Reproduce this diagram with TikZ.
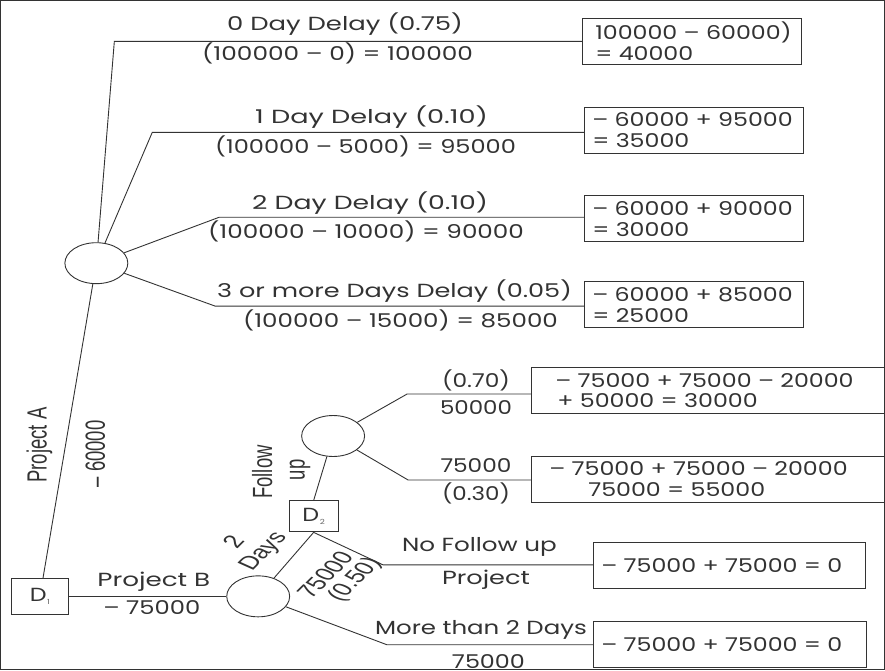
\documentclass[tikz,border=0pt]{standalone}
\usepackage{fontspec}
\usepackage{graphicx}
\setmainfont{Poppins}
\newfontfamily\boxfont{Poppins}[FakeStretch=1.25]
\newfontfamily\narrowfont{Liberation Sans}
\usetikzlibrary{shapes.geometric}
\definecolor{lc}{HTML}{333333}
\newcommand{\dsub}[1]{\kern0.5pt\raisebox{-3pt}{\textcolor{black!60}{\fontsize{7}{7}\selectfont #1}}}
\newcommand{\wtext}[2]{\resizebox{#1}{\height}{#2}}
\newcommand{\rtext}[2]{\scalebox{1.5}[1]{\rotatebox{#1}{#2}}}
\begin{document}
\begin{tikzpicture}[x=1pt,y=-1pt,
  every path/.style={line width=0.9pt, draw=lc},
  lbl/.style={font=\fontsize{19}{19}\selectfont, inner sep=0pt, text=lc},
  small/.style={font=\narrowfont\fontsize{18.5}{18.5}\selectfont, inner sep=0pt, text=lc},
  circ/.style={ellipse, draw=lc, line width=0.9pt, minimum width=63pt, minimum height=41pt, inner sep=0pt},
  dbox/.style={rectangle, draw=lc, line width=0.9pt, inner sep=0pt, font=\boxfont\fontsize{19}{19}\selectfont, text=lc},
  valbox/.style={rectangle, draw=lc, line width=0.9pt, anchor=west, minimum height=46pt,
    align=left, inner xsep=8pt, inner ysep=0pt, text width=#1, text=lc,
    font=\boxfont\fontsize{19}{21}\selectfont}]
\path[fill=white, draw=none] (0,0) rectangle (885,670);
\useasboundingbox (0,0) rectangle (885,670);

% chance and decision nodes
\node[circ] (c1) at (96,263) {};
\node[circ] (c2) at (258,596.5) {};
\node[circ] (c3) at (333,436) {};
\node[dbox, minimum width=57pt, minimum height=36pt] (D1) at (39.5,596.5) {D\dsub{1}};
\node[dbox, minimum width=49pt, minimum height=31pt] (D2) at (313.5,516.5) {D\dsub{2}};

% corner points
\coordinate (k1) at (114,41);
\coordinate (k2) at (152,132);
\coordinate (k3) at (219,217);
\coordinate (k4) at (215,306);
\coordinate (k5) at (407,394);
\coordinate (k6) at (408,480);
\coordinate (k7) at (383,565);
\coordinate (k8) at (387,645);

% value boxes
\node[valbox=203pt] (b1) at (582,41) {\hspace*{5pt}100000 – 60000)\\\hspace*{5pt}= 40000};
\node[valbox=203pt] (b2) at (584,130) {– 60000 + 95000\\= 35000};
\node[valbox=203pt] (b3) at (584,218.5) {– 60000 + 90000\\= 30000};
\node[valbox=203pt] (b4) at (584,304.5) {– 60000 + 85000\\= 25000};
\node[valbox=353pt] (b5) at (531,390.5) {\hspace*{16pt}– 75000 + 75000 – 20000\\\hspace*{18pt}+ 50000 = 30000};
\node[valbox=353pt] (b6) at (531,479.5) {\hspace*{10pt}– 75000 + 75000 – 20000\\\hspace*{49pt}75000 = 55000};
\node[valbox=256pt] (b7) at (593,566) {– 75000 + 75000 = 0};
\node[valbox=257pt] (b8) at (593,644.5) {– 75000 + 75000 = 0};

% connectors
\draw (c1) -- (k1) -- (k1 -| b1.west);
\draw (c1) -- (k2) -- (k2 -| b2.west);
\draw (c1) -- (k3) -- (k3 -| b3.west);
\draw (c1) -- (k4) -- (k4 -| b4.west);
\draw (c1) -- (D1);
\draw (D1.east) -- (c2.west);
\draw (c2) -- (D2.south);
\draw (D2.north) -- (c3);
\draw (c3) -- (k5) -- (k5 -| b5.west);
\draw (c3) -- (k6) -- (k6 -| b6.west);
\draw (D2.south) -- (k7) -- (k7 -| b7.west);
\draw (c2) -- (k8) -- (k8 -| b8.west);

% branch labels
\node[lbl] (t1a) at (345,24) {\wtext{236pt}{0 Day Delay (0.75)}};
\node[lbl] (t1b) at (337.5,53) {\wtext{271pt}{(100000 – 0) = 100000}};
\node[lbl] (t2a) at (371.5,117) {\wtext{233pt}{1 Day Delay (0.10)}};
\node[lbl] (t2b) at (365.5,146) {\wtext{301pt}{(100000 – 5000) = 95000}};
\node[lbl] (t3a) at (370,203) {\wtext{236pt}{2 Day Delay (0.10)}};
\node[lbl] (t3b) at (366,231) {\wtext{316pt}{(100000 – 10000) = 90000}};
\node[lbl] (t4a) at (394.5,291) {\wtext{355pt}{3 or more Days Delay (0.05)}};
\node[lbl] (t4b) at (400.5,320) {\wtext{315pt}{(100000 – 15000) = 85000}};
\node[lbl] (t5a) at (476,380) {\wtext{68pt}{(0.70)}};
\node[lbl] (t5b) at (476,408) {\wtext{72pt}{50000}};
\node[lbl] (t6a) at (476,466) {\wtext{71pt}{75000}};
\node[lbl] (t6b) at (476,493) {\wtext{68pt}{(0.30)}};
\node[lbl] (t7a) at (479.5,547) {\wtext{155pt}{No Follow up}};
\node[lbl] (t7b) at (486,580) {\wtext{88pt}{Project}};
\node[lbl] (t8a) at (481,630) {\wtext{212pt}{More than 2 Days}};
\node[lbl] (t8b) at (488.5,662) {\wtext{73pt}{75000}};
\node[lbl] (pb1) at (153.5,582) {\wtext{113pt}{Project B}};
\node[lbl] (pb2) at (151.5,608) {\wtext{97pt}{– 75000}};

% rotated labels
\node[small] (pa1) at (39,445) {\rtext{90}{Project A}};
\node[small] (pa2) at (95,454) {\rtext{90}{– 60000}};
\node[small] (fu1) at (262,472) {\rtext{90}{Follow}};
\node[small] (fu2) at (300,470) {\rtext{90}{up}};
\node[small] (dy1) at (233,542) {\rtext{56}{2}};
\node[small] (dy2) at (264,552) {\rtext{56}{Days}};
\node[small] (p51) at (325,575) {\rtext{56}{75000}};
\node[small] (p52) at (355,580) {\rtext{56}{(0.50)}};
\end{tikzpicture}
\end{document}
